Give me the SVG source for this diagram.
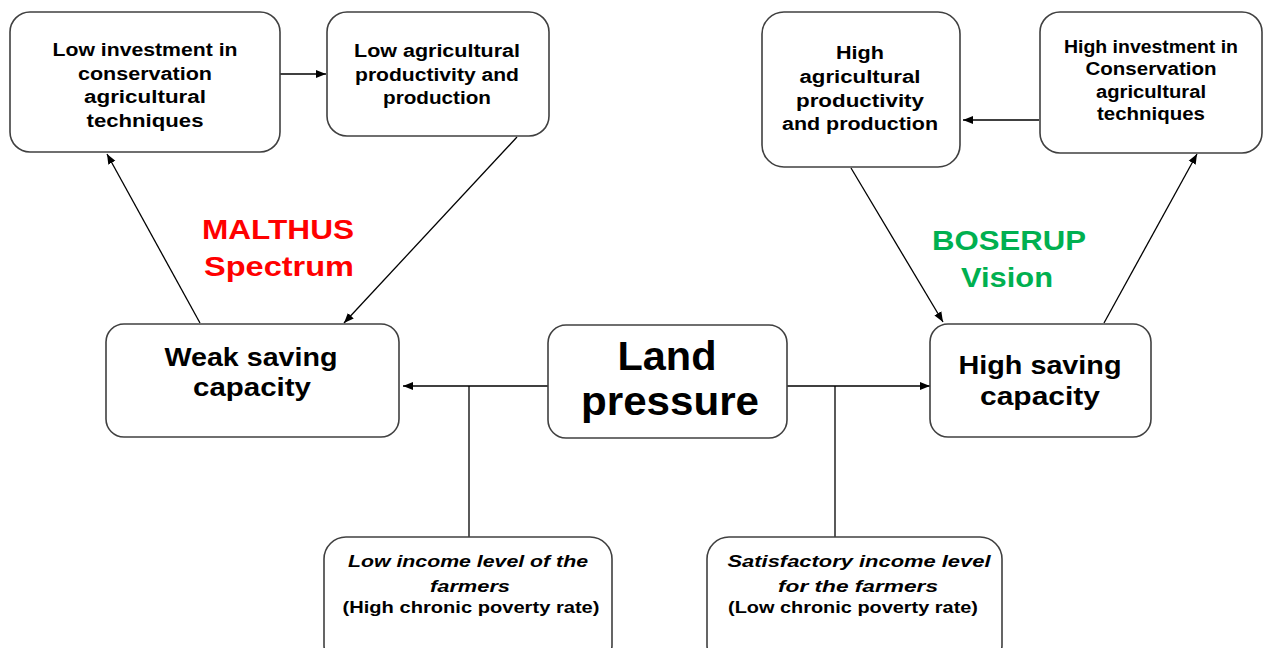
<svg xmlns="http://www.w3.org/2000/svg" width="1265" height="648" viewBox="0 0 1265 648">
<defs>
<style>
.box{fill:#fff;stroke:#404040;stroke-width:1.6}
.t{font-family:"Liberation Sans",Arial,sans-serif;font-weight:bold;fill:#000;text-anchor:middle}
.s{font-size:18px}
.m{font-size:26px}
.l{font-size:40px}
.b{font-size:17px}
.i{font-style:italic}
.lbl{font-family:"Liberation Sans",Arial,sans-serif;font-weight:bold;font-size:27px;text-anchor:middle}
.c{fill:none;stroke:#000;stroke-width:1.3}
</style>
<marker id="ah" viewBox="0 0 10 10" refX="10" refY="5" markerWidth="10" markerHeight="10" markerUnits="userSpaceOnUse" orient="auto">
<path d="M0,1 L10,5 L0,9 Z" fill="#000"/>
</marker>
</defs>
<rect width="1265" height="648" fill="#fff"/>

<g id="connectors">
<line class="c" x1="280" y1="74" x2="326" y2="74" marker-end="url(#ah)"/>
<line class="c" x1="1039" y1="120" x2="963" y2="120" marker-end="url(#ah)"/>
<line class="c" x1="200" y1="323" x2="107" y2="154" marker-end="url(#ah)"/>
<line class="c" x1="517" y1="137" x2="344" y2="323" marker-end="url(#ah)"/>
<line class="c" x1="851" y1="168" x2="943" y2="322" marker-end="url(#ah)"/>
<line class="c" x1="1104" y1="323" x2="1197" y2="154" marker-end="url(#ah)"/>
<line class="c" x1="548" y1="386" x2="403" y2="386" marker-end="url(#ah)"/>
<line class="c" x1="787" y1="386" x2="930" y2="386" marker-end="url(#ah)"/>
<line class="c" x1="469" y1="386" x2="469" y2="537"/>
<line class="c" x1="835" y1="386" x2="835" y2="537"/>
</g>

<g id="n-low-invest">
<rect class="box" x="10" y="12" width="270" height="140" rx="20"/>
<text class="t s" x="145" y="56" textLength="185" lengthAdjust="spacingAndGlyphs">Low investment in</text>
<text class="t s" x="145" y="80" textLength="134" lengthAdjust="spacingAndGlyphs">conservation</text>
<text class="t s" x="145" y="103" textLength="122" lengthAdjust="spacingAndGlyphs">agricultural</text>
<text class="t s" x="145" y="127" textLength="117" lengthAdjust="spacingAndGlyphs">techniques</text>
</g>

<g id="n-low-prod">
<rect class="box" x="327" y="12" width="222" height="124" rx="20"/>
<text class="t s" x="437" y="57" textLength="166" lengthAdjust="spacingAndGlyphs">Low agricultural</text>
<text class="t s" x="437" y="81" textLength="164" lengthAdjust="spacingAndGlyphs">productivity and</text>
<text class="t s" x="437" y="104" textLength="108" lengthAdjust="spacingAndGlyphs">production</text>
</g>

<g id="n-high-prod">
<rect class="box" x="762" y="12" width="198" height="155" rx="22"/>
<text class="t s" x="860" y="59" textLength="48" lengthAdjust="spacingAndGlyphs">High</text>
<text class="t s" x="860" y="83" textLength="121" lengthAdjust="spacingAndGlyphs">agricultural</text>
<text class="t s" x="860" y="107" textLength="128" lengthAdjust="spacingAndGlyphs">productivity</text>
<text class="t s" x="860" y="130" textLength="156" lengthAdjust="spacingAndGlyphs">and production</text>
</g>

<g id="n-high-invest">
<rect class="box" x="1040" y="12" width="222" height="141" rx="20"/>
<text class="t s" x="1151" y="53" textLength="174" lengthAdjust="spacingAndGlyphs">High investment in</text>
<text class="t s" x="1151" y="75" textLength="131" lengthAdjust="spacingAndGlyphs">Conservation</text>
<text class="t s" x="1151" y="98" textLength="110" lengthAdjust="spacingAndGlyphs">agricultural</text>
<text class="t s" x="1151" y="120" textLength="108" lengthAdjust="spacingAndGlyphs">techniques</text>
</g>

<g id="n-weak-saving">
<rect class="box" x="106" y="324" width="293" height="113" rx="18"/>
<text class="t m" x="251" y="366" textLength="173" lengthAdjust="spacingAndGlyphs">Weak saving</text>
<text class="t m" x="252" y="396" textLength="118" lengthAdjust="spacingAndGlyphs">capacity</text>
</g>

<g id="n-land">
<rect class="box" x="548" y="325" width="239" height="113" rx="18"/>
<text class="t l" x="667" y="370" textLength="99" lengthAdjust="spacingAndGlyphs">Land</text>
<text class="t l" x="670" y="415" textLength="178" lengthAdjust="spacingAndGlyphs">pressure</text>
</g>

<g id="n-high-saving">
<rect class="box" x="930" y="324" width="221" height="113" rx="18"/>
<text class="t m" x="1040" y="374" textLength="163" lengthAdjust="spacingAndGlyphs">High saving</text>
<text class="t m" x="1040" y="405" textLength="120" lengthAdjust="spacingAndGlyphs">capacity</text>
</g>

<g id="n-low-income">
<rect class="box" x="324" y="537" width="288" height="130" rx="22"/>
<text class="t b i" x="468" y="567" textLength="240" lengthAdjust="spacingAndGlyphs">Low income level of the</text>
<text class="t b i" x="470" y="592" textLength="80" lengthAdjust="spacingAndGlyphs">farmers</text>
<text class="t b" x="471" y="613" textLength="257" lengthAdjust="spacingAndGlyphs">(High chronic poverty rate)</text>
</g>

<g id="n-satisfactory">
<rect class="box" x="707" y="537" width="295" height="130" rx="22"/>
<text class="t b i" x="859" y="567" textLength="263" lengthAdjust="spacingAndGlyphs">Satisfactory income level</text>
<text class="t b i" x="858" y="592" textLength="160" lengthAdjust="spacingAndGlyphs">for the farmers</text>
<text class="t b" x="853" y="613" textLength="250" lengthAdjust="spacingAndGlyphs">(Low chronic poverty rate)</text>
</g>

<g id="label-malthus">
<text class="lbl" x="278" y="239" fill="#FF0000" textLength="152" lengthAdjust="spacingAndGlyphs">MALTHUS</text>
<text class="lbl" x="279" y="276" fill="#FF0000" textLength="150" lengthAdjust="spacingAndGlyphs">Spectrum</text>
</g>

<g id="label-boserup">
<text class="lbl" x="1009" y="250" fill="#00B050" textLength="154" lengthAdjust="spacingAndGlyphs">BOSERUP</text>
<text class="lbl" x="1007" y="287" fill="#00B050" textLength="92" lengthAdjust="spacingAndGlyphs">Vision</text>
</g>
</svg>
